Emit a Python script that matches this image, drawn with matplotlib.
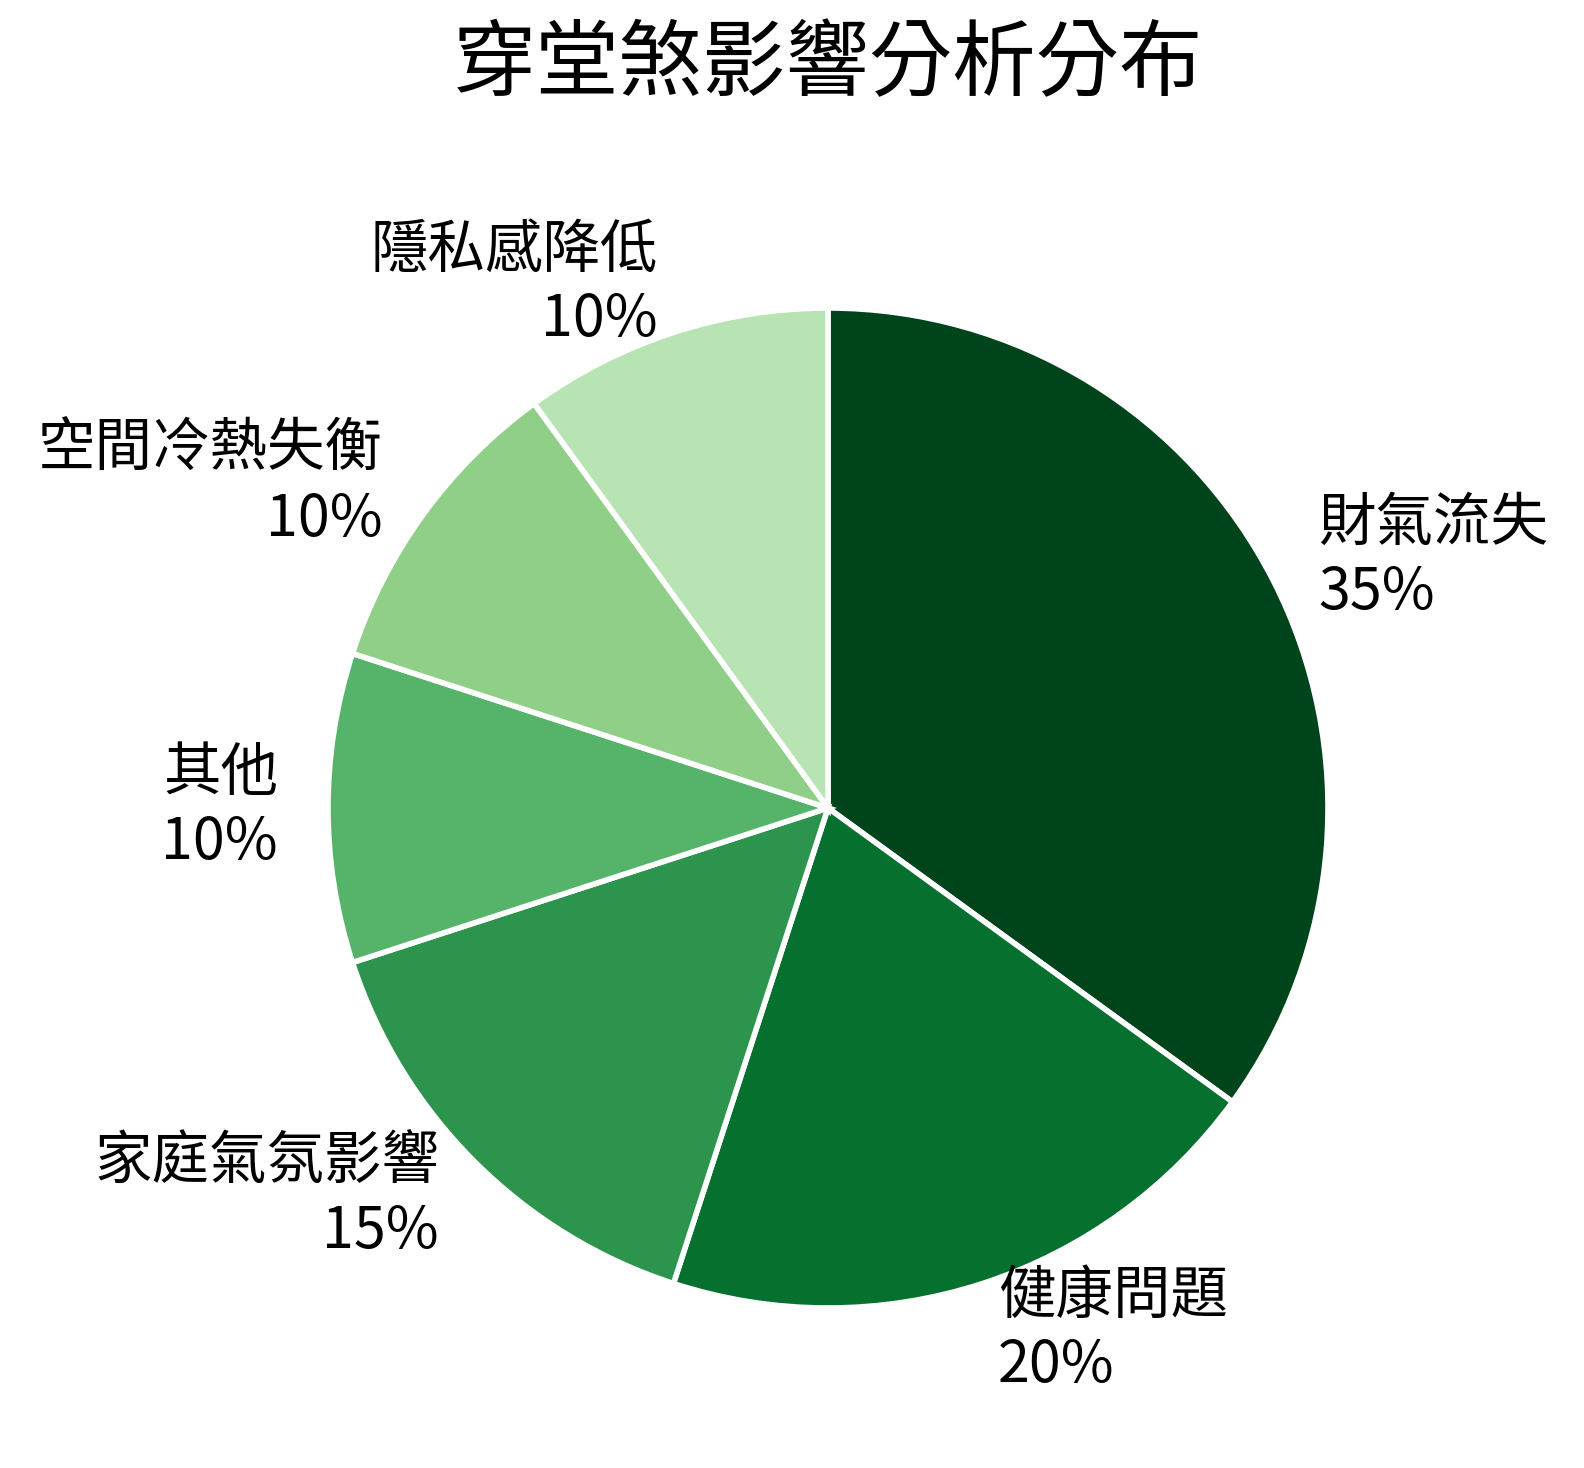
import matplotlib.pyplot as plt

plt.rcParams['font.family'] = ['Noto Sans CJK TC', 'DejaVu Sans']

# data
categories = ['財氣流失', '健康問題', '家庭氣氛影響', '其他', '空間冷熱失衡', '隱私感降低']
shares = [35, 20, 15, 10, 10, 10]
colors = ['#00441b', '#06702f', '#2c944c', '#55b46a', '#8fcf88', '#b8e3b2']

labels = ['{}\n{}%'.format(c, s) for c, s in zip(categories, shares)]

fig = plt.figure(figsize=(7.92, 7.34), dpi=200)

# square axes, pie centre ~ (828, 808) px, radius ~500 px
W, H = 1584, 1468
cx, cy, r = 828, 808, 500
ax = fig.add_axes([(cx - r) / W, (H - cy - r) / H, 2 * r / W, 2 * r / H])

ax.pie(shares, labels=labels, colors=colors, startangle=90, counterclock=False,
       labeldistance=1.1, radius=1.0,
       wedgeprops={'edgecolor': 'white', 'linewidth': 2},
       textprops={'fontsize': 20.7, 'linespacing': 1.24})
ax.set_xlim(-1, 1)
ax.set_ylim(-1, 1)
ax.set_aspect('auto')

fig.text(cx / W, 1 - 65 / H, '穿堂煞影響分析分布', ha='center', va='center', fontsize=30)

fig.savefig('out.png', dpi=200)
